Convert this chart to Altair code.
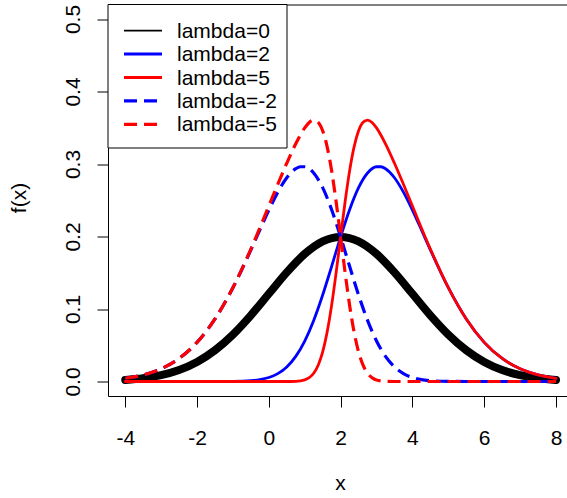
import altair as alt
import pandas as pd

# ---- data ----
x_l0 = [-4, -3.5, -3, -2.5, -2, -1.5, -1, -0.5, 0, 0.5, 1, 1.5, 2, 2.5, 3, 3.5, 4, 4.5, 5, 5.5, 6, 6.5, 7, 7.5, 8]
y_l0 = [0.002216, 0.004547, 0.008764, 0.015870, 0.026995, 0.043139, 0.064759, 0.091325, 0.120985, 0.150569,
        0.176033, 0.193334, 0.199471, 0.193334, 0.176033, 0.150569, 0.120985, 0.091325, 0.064759, 0.043139,
        0.026995, 0.015870, 0.008764, 0.004547, 0.002216]

x_l2 = [-4, -3.5, -3, -2.5, -2, -1.5, -1, -0.5, -0.25, 0, 0.25, 0.5, 0.75, 1, 1.25, 1.5, 1.75, 2, 2.25, 2.5,
        2.75, 3, 3.125, 3.25, 3.5, 3.75, 4, 4.25, 4.5, 5, 5.5, 6, 6.5, 7, 7.5, 8]
y_l2 = [0, 0, 0, 0, 0.000002, 0.00002, 0.000175, 0.001134, 0.002589, 0.005505, 0.010899, 0.020119, 0.034670,
        0.055859, 0.084273, 0.119302, 0.158845, 0.199471, 0.236991, 0.267366, 0.287582, 0.296206, 0.296192,
        0.293490, 0.281018, 0.261157, 0.236466, 0.209288, 0.181515, 0.129343, 0.086257, 0.053989, 0.031740,
        0.017528, 0.009094, 0.004432]

x_l5 = [-4, -3.5, -3, -2.5, -2, -1.5, -1, -0.5, 0, 0.5, 0.75, 1, 1.125, 1.25, 1.375, 1.5, 1.625, 1.75, 1.875, 2,
        2.125, 2.25, 2.375, 2.5, 2.625, 2.75, 2.875, 3, 3.25, 3.5, 3.75, 4, 4.5, 5, 5.5, 6, 6.5, 7, 7.5, 8]
y_l5 = [0, 0, 0, 0, 0, 0, 0, 0, 0, 0.000027, 0.000292, 0.002186, 0.005202, 0.011304, 0.022451, 0.040852,
        0.068304, 0.105289, 0.150239, 0.199471, 0.247925, 0.290548, 0.323687, 0.345816, 0.357481, 0.360551,
        0.357331, 0.349879, 0.327869, 0.301110, 0.272053, 0.241971, 0.182649, 0.129518, 0.086277, 0.053991,
        0.031740, 0.017528, 0.009094, 0.004432]

x_m2 = [-4, -3.5, -3, -2.5, -2, -1.5, -1, -0.5, -0.25, 0, 0.25, 0.5, 0.75, 0.875, 1, 1.25, 1.5, 1.75, 2, 2.25,
        2.5, 2.75, 3, 3.25, 3.5, 3.75, 4, 4.25, 4.5, 5, 5.5, 6, 6.5, 7, 7.5, 8]
y_m2 = [0.004432, 0.009094, 0.017528, 0.031740, 0.053989, 0.086257, 0.129343, 0.181515, 0.209288, 0.236466,
        0.261157, 0.281018, 0.293490, 0.296192, 0.296206, 0.287582, 0.267366, 0.236991, 0.199471, 0.158845,
        0.119302, 0.084273, 0.055859, 0.034670, 0.020119, 0.010899, 0.005505, 0.002589, 0.001134, 0.000175,
        0.00002, 0.000002, 0, 0, 0, 0]

x_m5 = [-4, -3.5, -3, -2.5, -2, -1.5, -1, -0.5, 0, 0.25, 0.5, 0.75, 1, 1.125, 1.25, 1.375, 1.5, 1.625, 1.75,
        1.875, 2, 2.125, 2.25, 2.375, 2.5, 2.625, 2.75, 2.875, 3, 3.25, 3.5, 4, 4.5, 5, 5.5, 6, 6.5, 7, 7.5, 8]
y_m5 = [0.004432, 0.009094, 0.017528, 0.031740, 0.053991, 0.086277, 0.129518, 0.182649, 0.241971, 0.272053,
        0.301110, 0.327869, 0.349879, 0.357331, 0.360551, 0.357481, 0.345816, 0.323687, 0.290548, 0.247925,
        0.199471, 0.150239, 0.105289, 0.068304, 0.040852, 0.022451, 0.011304, 0.005202, 0.002186, 0.000292,
        0.000027, 0, 0, 0, 0, 0, 0, 0, 0, 0]

labels = ["lambda=0", "lambda=2", "lambda=5", "lambda=-2", "lambda=-5"]
x_ticks = [-4, -2, 0, 2, 4, 6, 8]
y_ticks = [0.0, 0.1, 0.2, 0.3, 0.4, 0.5]

# ---- styles ----
colors = ["#000000", "#0000FF", "#FF0000", "#0000FF", "#FF0000"]
widths = [8, 2.8, 2.8, 3.2, 3.2]
leg_widths = [1.7, 3, 3, 3.2, 3.2]
dashes = [[1, 0], [1, 0], [1, 0], [13, 7], [13, 7]]
FONT = "Liberation Sans"

series_x = [x_l0, x_l2, x_l5, x_m2, x_m5]
series_y = [y_l0, y_l2, y_l5, y_m2, y_m5]

frames = []
for lab, xs, ys in zip(labels, series_x, series_y):
    frames.append(pd.DataFrame({"series": lab, "x": xs, "y": ys}))
df = pd.concat(frames, ignore_index=True)

xscale = alt.Scale(domain=[-4.48, 8.306], nice=False, zero=False)
yscale = alt.Scale(domain=[-0.02, 0.52], nice=False, zero=False)

xaxis = alt.Axis(values=x_ticks, labelExpr="'' + datum.value", title="x", domain=False, grid=False,
                 tickSize=11, tickColor="black", tickWidth=1, labelFontSize=21, labelFont=FONT,
                 labelColor="black", labelPadding=20, titleFont=FONT, titleFontSize=21,
                 titleFontWeight="normal", titleColor="black", titleX=232, titleY=87,
                 titleBaseline="middle", titleAlign="center")
yaxis = alt.Axis(values=y_ticks, format=".1f", title="f(x)", domain=False, grid=False,
                 tickSize=11, tickColor="black", tickWidth=1, labelFontSize=21, labelFont=FONT,
                 labelColor="black", labelPadding=24, labelAngle=270, labelAlign="center",
                 labelBaseline="middle", titleFont=FONT, titleFontSize=21, titleFontWeight="normal",
                 titleColor="black", titleAngle=270, titleX=-89, titleY=193,
                 titleBaseline="middle", titleAlign="center")

layers = []
for i, lab in enumerate(labels):
    cap = "round" if dashes[i][1] == 0 else "butt"
    mk = dict(color=colors[i], strokeWidth=widths[i], strokeCap=cap, strokeJoin="round",
              interpolate="monotone")
    if dashes[i][1] != 0:
        mk["strokeDash"] = dashes[i]
    layer = alt.Chart(df).transform_filter(alt.datum.series == lab).mark_line(**mk).encode(
        x=alt.X("x:Q", scale=xscale, axis=xaxis),
        y=alt.Y("y:Q", scale=yscale, axis=yaxis),
    )
    layers.append(layer)

# ---- legend (manual, pixel positions inside plot area) ----
one = pd.DataFrame({"a": [0]})
layers.append(alt.Chart(one).mark_rect(fill="white", stroke="black", strokeWidth=1).encode(
    x=alt.value(0), x2=alt.value(179), y=alt.value(0), y2=alt.value(143.5)))
row_y0 = 26.2
row_step = 23.4
for i, lab in enumerate(labels):
    yy = row_y0 + i * row_step
    mk = dict(color=colors[i], strokeWidth=leg_widths[i])
    if dashes[i][1] != 0:
        mk["strokeDash"] = dashes[i]
    layers.append(alt.Chart(one).mark_rule(**mk).encode(
        x=alt.value(16), x2=alt.value(54), y=alt.value(yy)))
    layers.append(alt.Chart(one).mark_text(align="left", baseline="middle", fontSize=21, font=FONT,
                                           color="black").encode(
        x=alt.value(69), y=alt.value(yy + 1), text=alt.value(lab)))

chart = alt.layer(*layers).properties(
    width=459, height=391.5,
    autosize=alt.AutoSizeParams(type="none"),
    padding={"left": 108, "top": 4.5, "right": 0, "bottom": 102},
    background="white",
).configure_view(stroke="black", strokeWidth=1)

chart.save("out.html", embed_options={"renderer": "svg", "actions": False})
